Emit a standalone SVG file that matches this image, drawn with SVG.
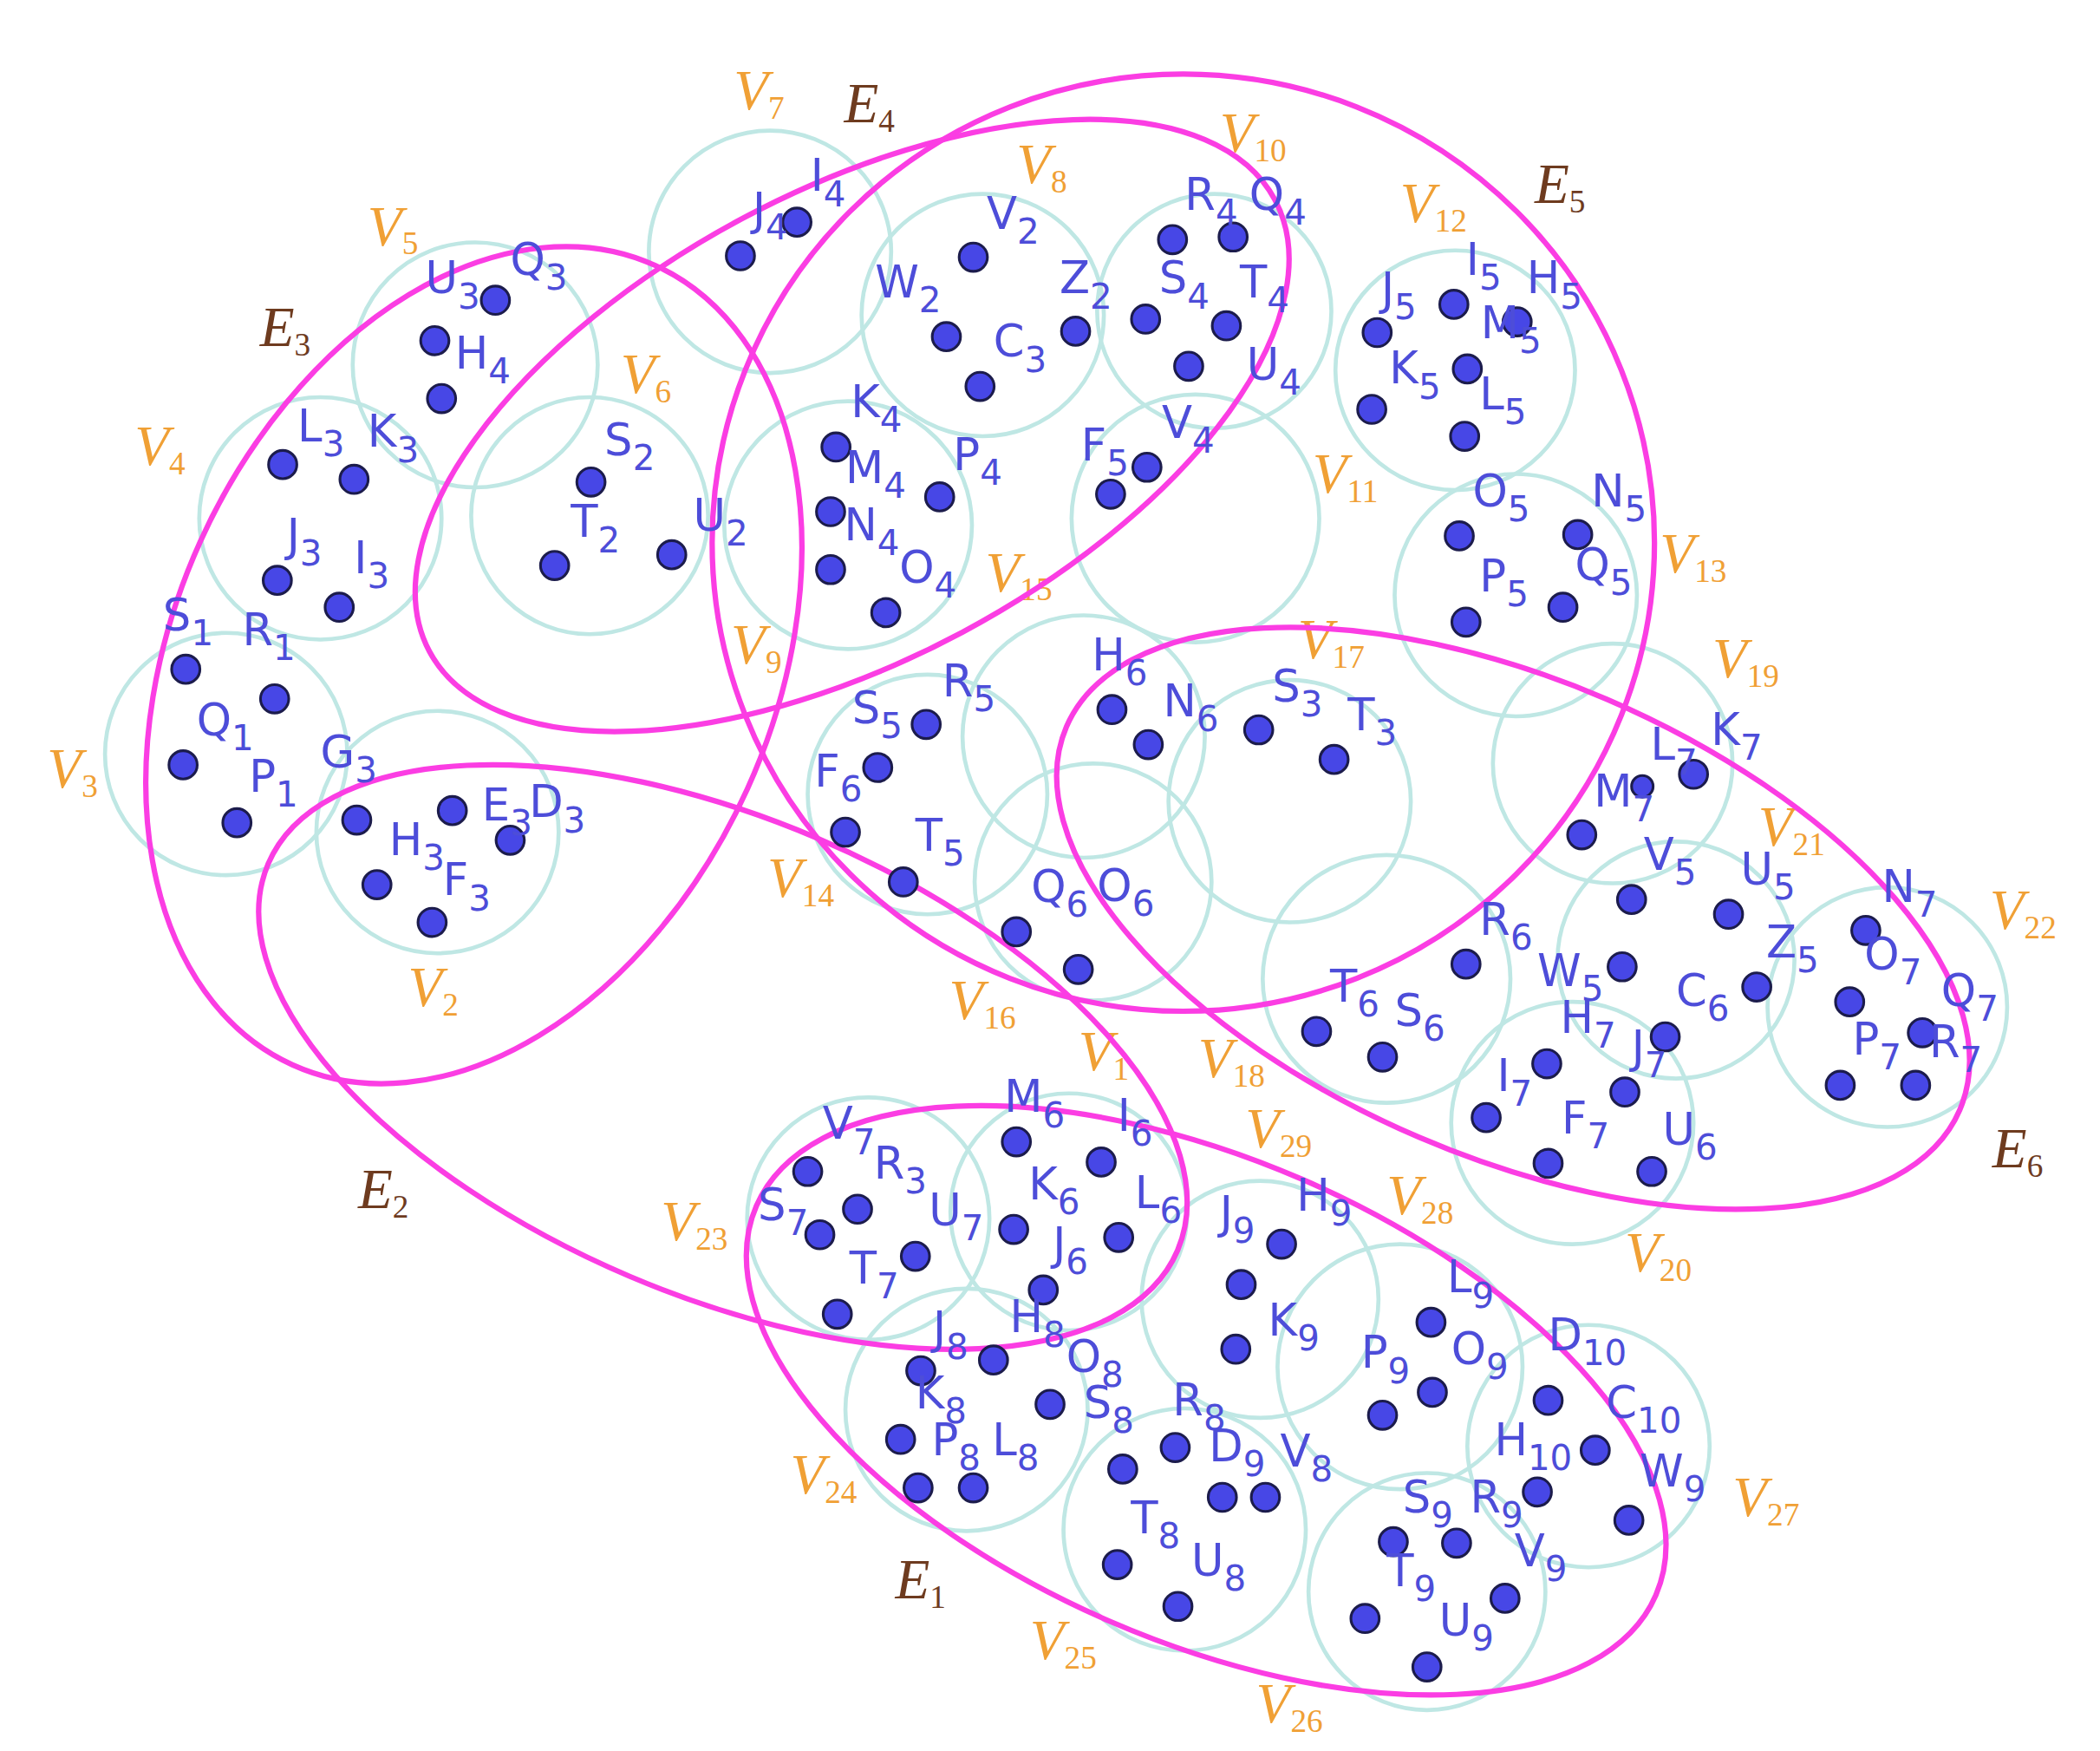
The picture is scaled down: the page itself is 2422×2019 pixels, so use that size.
<svg xmlns="http://www.w3.org/2000/svg" width="2422" height="2019" viewBox="0 0 2422 2019">
<style>
.c{fill:none;stroke:#bfe7e4;stroke-width:3}
.e{fill:none;stroke:#fb3de3;stroke-width:4}
.d{fill:#4747e6;stroke:#1c1c4c;stroke-width:2}
.t{font-family:"DejaVu Sans",sans-serif;font-size:33px;fill:#4d4dd9}
.s{font-size:26px}
.v{font-family:"Liberation Serif",serif;font-style:italic;font-size:42px;fill:#f0a035}
.vs{font-style:normal;font-size:24px}
.el{font-family:"Liberation Serif",serif;font-style:italic;font-size:42px;fill:#6e3b1f}
</style>
<rect width="2422" height="2019" fill="#ffffff"/>
<g transform="scale(1.5526)">
<g id="clusters">
<g id="V1"><circle class="c" cx="794" cy="900" r="88"/><text class="v" x="801" y="795">V<tspan class="vs" dy="7">1</tspan></text></g>
<g id="V2"><circle class="c" cx="325" cy="618" r="90"/><text class="v" x="303" y="747">V<tspan class="vs" dy="7">2</tspan></text></g>
<g id="V3"><circle class="c" cx="168" cy="560" r="90"/><text class="v" x="35" y="585">V<tspan class="vs" dy="7">3</tspan></text></g>
<g id="V4"><circle class="c" cx="238" cy="385" r="90"/><text class="v" x="100" y="345">V<tspan class="vs" dy="7">4</tspan></text></g>
<g id="V5"><circle class="c" cx="353" cy="271" r="91"/><text class="v" x="273" y="182">V<tspan class="vs" dy="7">5</tspan></text></g>
<g id="V6"><circle class="c" cx="438" cy="383" r="88"/><text class="v" x="461" y="292">V<tspan class="vs" dy="7">6</tspan></text></g>
<g id="V7"><circle class="c" cx="572" cy="187" r="90"/><text class="v" x="545" y="81">V<tspan class="vs" dy="7">7</tspan></text></g>
<g id="V8"><circle class="c" cx="730" cy="234" r="90"/><text class="v" x="755" y="136">V<tspan class="vs" dy="7">8</tspan></text></g>
<g id="V9"><circle class="c" cx="630" cy="390" r="92"/><text class="v" x="543" y="493">V<tspan class="vs" dy="7">9</tspan></text></g>
<g id="V10"><circle class="c" cx="902" cy="231" r="87"/><text class="v" x="906" y="113">V<tspan class="vs" dy="7">10</tspan></text></g>
<g id="V11"><circle class="c" cx="888" cy="385" r="92"/><text class="v" x="975" y="366">V<tspan class="vs" dy="7">11</tspan></text></g>
<g id="V12"><circle class="c" cx="1081" cy="275" r="89"/><text class="v" x="1040" y="165">V<tspan class="vs" dy="7">12</tspan></text></g>
<g id="V13"><circle class="c" cx="1126" cy="442" r="90"/><text class="v" x="1233" y="425">V<tspan class="vs" dy="7">13</tspan></text></g>
<g id="V14"><circle class="c" cx="689" cy="590" r="89"/><text class="v" x="570" y="666">V<tspan class="vs" dy="7">14</tspan></text></g>
<g id="V15"><circle class="c" cx="805" cy="547" r="90"/><text class="v" x="732" y="439">V<tspan class="vs" dy="7">15</tspan></text></g>
<g id="V16"><circle class="c" cx="812" cy="655" r="88"/><text class="v" x="705" y="757">V<tspan class="vs" dy="7">16</tspan></text></g>
<g id="V17"><circle class="c" cx="958" cy="595" r="90"/><text class="v" x="964" y="489">V<tspan class="vs" dy="7">17</tspan></text></g>
<g id="V18"><circle class="c" cx="1030" cy="727" r="92"/><text class="v" x="890" y="800">V<tspan class="vs" dy="7">18</tspan></text></g>
<g id="V19"><circle class="c" cx="1198" cy="567" r="89"/><text class="v" x="1272" y="503">V<tspan class="vs" dy="7">19</tspan></text></g>
<g id="V20"><circle class="c" cx="1168" cy="834" r="90"/><text class="v" x="1207" y="944">V<tspan class="vs" dy="7">20</tspan></text></g>
<g id="V21"><circle class="c" cx="1245" cy="713" r="88"/><text class="v" x="1306" y="628">V<tspan class="vs" dy="7">21</tspan></text></g>
<g id="V22"><circle class="c" cx="1402" cy="748" r="89"/><text class="v" x="1478" y="690">V<tspan class="vs" dy="7">22</tspan></text></g>
<g id="V23"><circle class="c" cx="645" cy="905" r="90"/><text class="v" x="491" y="921">V<tspan class="vs" dy="7">23</tspan></text></g>
<g id="V24"><circle class="c" cx="718" cy="1047" r="90"/><text class="v" x="587" y="1109">V<tspan class="vs" dy="7">24</tspan></text></g>
<g id="V25"><circle class="c" cx="880" cy="1136" r="90"/><text class="v" x="765" y="1232">V<tspan class="vs" dy="7">25</tspan></text></g>
<g id="V26"><circle class="c" cx="1060" cy="1182" r="88"/><text class="v" x="933" y="1279">V<tspan class="vs" dy="7">26</tspan></text></g>
<g id="V27"><circle class="c" cx="1180" cy="1074" r="90"/><text class="v" x="1287" y="1126">V<tspan class="vs" dy="7">27</tspan></text></g>
<g id="V28"><circle class="c" cx="1040" cy="1015" r="91"/><text class="v" x="1030" y="902">V<tspan class="vs" dy="7">28</tspan></text></g>
<g id="V29"><circle class="c" cx="936" cy="965" r="88"/><text class="v" x="925" y="852">V<tspan class="vs" dy="7">29</tspan></text></g>
</g>
<g id="hyperedges">
<ellipse class="e" cx="896" cy="1040" rx="364" ry="179" transform="rotate(23.4 896 1040)"/>
<ellipse class="e" cx="537" cy="785" rx="367" ry="177" transform="rotate(23 537 785)"/>
<ellipse class="e" cx="352" cy="494" rx="326" ry="223" transform="rotate(-65.6 352 494)"/>
<ellipse class="e" cx="633" cy="316" rx="356" ry="174" transform="rotate(-28.1 633 316)"/>
<ellipse class="e" cx="879" cy="403" rx="350" ry="348"/>
<ellipse class="e" cx="1124" cy="682" rx="361" ry="177" transform="rotate(23.2 1124 682)"/>
<text class="el" x="665" y="1187">E<tspan class="vs" dy="7">1</tspan></text>
<text class="el" x="266" y="897">E<tspan class="vs" dy="7">2</tspan></text>
<text class="el" x="193" y="257">E<tspan class="vs" dy="7">3</tspan></text>
<text class="el" x="627" y="91">E<tspan class="vs" dy="7">4</tspan></text>
<text class="el" x="1140" y="151">E<tspan class="vs" dy="7">5</tspan></text>
<text class="el" x="1480" y="867">E<tspan class="vs" dy="7">6</tspan></text>
</g>
<g id="points">
<g id="P-V5">
<circle class="d" cx="368" cy="223" r="10.5"/><circle class="d" cx="323" cy="253" r="10.5"/><circle class="d" cx="328" cy="296" r="10.5"/>
<text class="t" x="316" y="218">U<tspan class="s" dy="11">3</tspan></text>
<text class="t" x="379" y="204">Q<tspan class="s" dy="11">3</tspan></text>
<text class="t" x="338" y="274">H<tspan class="s" dy="11">4</tspan></text>
</g>
<g id="P-V4">
<circle class="d" cx="210" cy="345" r="10.5"/><circle class="d" cx="263" cy="356" r="10.5"/><circle class="d" cx="206" cy="431" r="10.5"/><circle class="d" cx="252" cy="451" r="10.5"/>
<text class="t" x="221" y="328">L<tspan class="s" dy="11">3</tspan></text>
<text class="t" x="273" y="332">K<tspan class="s" dy="11">3</tspan></text>
<text class="t" x="213" y="409">J<tspan class="s" dy="11">3</tspan></text>
<text class="t" x="263" y="426">I<tspan class="s" dy="11">3</tspan></text>
</g>
<g id="P-V3">
<circle class="d" cx="138" cy="497" r="10.5"/><circle class="d" cx="204" cy="519" r="10.5"/><circle class="d" cx="136" cy="568" r="10.5"/><circle class="d" cx="176" cy="611" r="10.5"/>
<text class="t" x="121" y="468">S<tspan class="s" dy="11">1</tspan></text>
<text class="t" x="180" y="479">R<tspan class="s" dy="11">1</tspan></text>
<text class="t" x="146" y="546">Q<tspan class="s" dy="11">1</tspan></text>
<text class="t" x="185" y="588">P<tspan class="s" dy="11">1</tspan></text>
</g>
<g id="P-V2">
<circle class="d" cx="265" cy="609" r="10.5"/><circle class="d" cx="336" cy="602" r="10.5"/><circle class="d" cx="379" cy="624" r="10.5"/><circle class="d" cx="280" cy="657" r="10.5"/><circle class="d" cx="321" cy="685" r="10.5"/>
<text class="t" x="238" y="570">G<tspan class="s" dy="11">3</tspan></text>
<text class="t" x="358" y="609">E<tspan class="s" dy="11">3</tspan></text>
<text class="t" x="393" y="607">D<tspan class="s" dy="11">3</tspan></text>
<text class="t" x="289" y="635">H<tspan class="s" dy="11">3</tspan></text>
<text class="t" x="329" y="665">F<tspan class="s" dy="11">3</tspan></text>
</g>
<g id="P-V6">
<circle class="d" cx="439" cy="358" r="10.5"/><circle class="d" cx="412" cy="420" r="10.5"/><circle class="d" cx="499" cy="412" r="10.5"/>
<text class="t" x="449" y="338">S<tspan class="s" dy="11">2</tspan></text>
<text class="t" x="424" y="399">T<tspan class="s" dy="11">2</tspan></text>
<text class="t" x="515" y="394">U<tspan class="s" dy="11">2</tspan></text>
</g>
<g id="P-V7">
<circle class="d" cx="592" cy="165" r="10.5"/><circle class="d" cx="550" cy="190" r="10.5"/>
<text class="t" x="602" y="142">I<tspan class="s" dy="11">4</tspan></text>
<text class="t" x="559" y="167">J<tspan class="s" dy="11">4</tspan></text>
</g>
<g id="P-V8">
<circle class="d" cx="723" cy="191" r="10.5"/><circle class="d" cx="703" cy="250" r="10.5"/><circle class="d" cx="799" cy="246" r="10.5"/><circle class="d" cx="728" cy="287" r="10.5"/>
<text class="t" x="733" y="170">V<tspan class="s" dy="11">2</tspan></text>
<text class="t" x="650" y="221">W<tspan class="s" dy="11">2</tspan></text>
<text class="t" x="738" y="265">C<tspan class="s" dy="11">3</tspan></text>
<text class="t" x="787" y="218">Z<tspan class="s" dy="11">2</tspan></text>
</g>
<g id="P-V10">
<circle class="d" cx="871" cy="178" r="10.5"/><circle class="d" cx="916" cy="176" r="10.5"/><circle class="d" cx="851" cy="237" r="10.5"/><circle class="d" cx="911" cy="242" r="10.5"/><circle class="d" cx="883" cy="272" r="10.5"/>
<text class="t" x="880" y="156">R<tspan class="s" dy="11">4</tspan></text>
<text class="t" x="928" y="156">Q<tspan class="s" dy="11">4</tspan></text>
<text class="t" x="861" y="218">S<tspan class="s" dy="11">4</tspan></text>
<text class="t" x="921" y="221">T<tspan class="s" dy="11">4</tspan></text>
<text class="t" x="926" y="282">U<tspan class="s" dy="11">4</tspan></text>
</g>
<g id="P-V12">
<circle class="d" cx="1023" cy="247" r="10.5"/><circle class="d" cx="1080" cy="226" r="10.5"/><circle class="d" cx="1127" cy="239" r="10.5"/><circle class="d" cx="1090" cy="274" r="10.5"/><circle class="d" cx="1019" cy="304" r="10.5"/><circle class="d" cx="1088" cy="324" r="10.5"/>
<text class="t" x="1089" y="204">I<tspan class="s" dy="11">5</tspan></text>
<text class="t" x="1134" y="218">H<tspan class="s" dy="11">5</tspan></text>
<text class="t" x="1026" y="226">J<tspan class="s" dy="11">5</tspan></text>
<text class="t" x="1100" y="251">M<tspan class="s" dy="11">5</tspan></text>
<text class="t" x="1032" y="285">K<tspan class="s" dy="11">5</tspan></text>
<text class="t" x="1099" y="304">L<tspan class="s" dy="11">5</tspan></text>
</g>
<g id="P-V13">
<circle class="d" cx="1084" cy="398" r="10.5"/><circle class="d" cx="1172" cy="397" r="10.5"/><circle class="d" cx="1089" cy="462" r="10.5"/><circle class="d" cx="1161" cy="451" r="10.5"/>
<text class="t" x="1094" y="376">O<tspan class="s" dy="11">5</tspan></text>
<text class="t" x="1182" y="376">N<tspan class="s" dy="11">5</tspan></text>
<text class="t" x="1170" y="431">Q<tspan class="s" dy="11">5</tspan></text>
<text class="t" x="1099" y="439">P<tspan class="s" dy="11">5</tspan></text>
</g>
<g id="P-V11">
<circle class="d" cx="852" cy="347" r="10.5"/><circle class="d" cx="825" cy="367" r="10.5"/>
<text class="t" x="803" y="342">F<tspan class="s" dy="11">5</tspan></text>
<text class="t" x="863" y="325">V<tspan class="s" dy="11">4</tspan></text>
</g>
<g id="P-V9">
<circle class="d" cx="621" cy="332" r="10.5"/><circle class="d" cx="617" cy="380" r="10.5"/><circle class="d" cx="698" cy="369" r="10.5"/><circle class="d" cx="617" cy="423" r="10.5"/><circle class="d" cx="658" cy="455" r="10.5"/>
<text class="t" x="632" y="310">K<tspan class="s" dy="11">4</tspan></text>
<text class="t" x="628" y="359">M<tspan class="s" dy="11">4</tspan></text>
<text class="t" x="627" y="401">N<tspan class="s" dy="11">4</tspan></text>
<text class="t" x="708" y="349">P<tspan class="s" dy="11">4</tspan></text>
<text class="t" x="668" y="433">O<tspan class="s" dy="11">4</tspan></text>
</g>
<g id="P-V14">
<circle class="d" cx="688" cy="538" r="10.5"/><circle class="d" cx="652" cy="570" r="10.5"/><circle class="d" cx="628" cy="618" r="10.5"/><circle class="d" cx="671" cy="655" r="10.5"/>
<text class="t" x="633" y="537">S<tspan class="s" dy="11">5</tspan></text>
<text class="t" x="700" y="517">R<tspan class="s" dy="11">5</tspan></text>
<text class="t" x="605" y="584">F<tspan class="s" dy="11">6</tspan></text>
<text class="t" x="680" y="632">T<tspan class="s" dy="11">5</tspan></text>
</g>
<g id="P-V16">
<circle class="d" cx="755" cy="692" r="10.5"/><circle class="d" cx="801" cy="720" r="10.5"/>
<text class="t" x="766" y="670">Q<tspan class="s" dy="11">6</tspan></text>
<text class="t" x="815" y="669">O<tspan class="s" dy="11">6</tspan></text>
</g>
<g id="P-V15">
<circle class="d" cx="826" cy="527" r="10.5"/><circle class="d" cx="853" cy="553" r="10.5"/>
<text class="t" x="811" y="498">H<tspan class="s" dy="11">6</tspan></text>
<text class="t" x="864" y="532">N<tspan class="s" dy="11">6</tspan></text>
</g>
<g id="P-V17">
<circle class="d" cx="935" cy="542" r="10.5"/><circle class="d" cx="991" cy="564" r="10.5"/>
<text class="t" x="945" y="521">S<tspan class="s" dy="11">3</tspan></text>
<text class="t" x="1001" y="542">T<tspan class="s" dy="11">3</tspan></text>
</g>
<g id="P-V19">
<circle class="d" cx="1258" cy="575" r="10.5"/><circle class="d" cx="1220" cy="584" r="8"/><circle class="d" cx="1175" cy="620" r="10.5"/>
<text class="t" x="1271" y="553">K<tspan class="s" dy="11">7</tspan></text>
<text class="t" x="1226" y="564">L<tspan class="s" dy="11">7</tspan></text>
<text class="t" x="1184" y="599">M<tspan class="s" dy="11">7</tspan></text>
</g>
<g id="P-V21">
<circle class="d" cx="1212" cy="668" r="10.5"/><circle class="d" cx="1284" cy="679" r="10.5"/><circle class="d" cx="1305" cy="733" r="10.5"/><circle class="d" cx="1205" cy="718" r="10.5"/><circle class="d" cx="1237" cy="770" r="10.5"/>
<text class="t" x="1221" y="646">V<tspan class="s" dy="11">5</tspan></text>
<text class="t" x="1293" y="657">U<tspan class="s" dy="11">5</tspan></text>
<text class="t" x="1312" y="711">Z<tspan class="s" dy="11">5</tspan></text>
<text class="t" x="1142" y="732">W<tspan class="s" dy="11">5</tspan></text>
<text class="t" x="1245" y="747">C<tspan class="s" dy="11">6</tspan></text>
</g>
<g id="P-V18">
<circle class="d" cx="1089" cy="716" r="10.5"/><circle class="d" cx="978" cy="766" r="10.5"/><circle class="d" cx="1027" cy="785" r="10.5"/>
<text class="t" x="1099" y="694">R<tspan class="s" dy="11">6</tspan></text>
<text class="t" x="1036" y="762">S<tspan class="s" dy="11">6</tspan></text>
<text class="t" x="988" y="744">T<tspan class="s" dy="11">6</tspan></text>
</g>
<g id="P-V20">
<circle class="d" cx="1149" cy="790" r="10.5"/><circle class="d" cx="1207" cy="811" r="10.5"/><circle class="d" cx="1104" cy="830" r="10.5"/><circle class="d" cx="1150" cy="864" r="10.5"/><circle class="d" cx="1227" cy="870" r="10.5"/>
<text class="t" x="1159" y="767">H<tspan class="s" dy="11">7</tspan></text>
<text class="t" x="1212" y="789">J<tspan class="s" dy="11">7</tspan></text>
<text class="t" x="1112" y="810">I<tspan class="s" dy="11">7</tspan></text>
<text class="t" x="1160" y="842">F<tspan class="s" dy="11">7</tspan></text>
<text class="t" x="1235" y="850">U<tspan class="s" dy="11">6</tspan></text>
</g>
<g id="P-V22">
<circle class="d" cx="1386" cy="691" r="10.5"/><circle class="d" cx="1374" cy="744" r="10.5"/><circle class="d" cx="1428" cy="767" r="10.5"/><circle class="d" cx="1367" cy="806" r="10.5"/><circle class="d" cx="1423" cy="806" r="10.5"/>
<text class="t" x="1398" y="670">N<tspan class="s" dy="11">7</tspan></text>
<text class="t" x="1385" y="720">O<tspan class="s" dy="11">7</tspan></text>
<text class="t" x="1442" y="747">Q<tspan class="s" dy="11">7</tspan></text>
<text class="t" x="1376" y="783">P<tspan class="s" dy="11">7</tspan></text>
<text class="t" x="1433" y="785">R<tspan class="s" dy="11">7</tspan></text>
</g>
<g id="P-V1">
<circle class="d" cx="755" cy="848" r="10.5"/><circle class="d" cx="818" cy="863" r="10.5"/><circle class="d" cx="753" cy="913" r="10.5"/><circle class="d" cx="831" cy="919" r="10.5"/><circle class="d" cx="775" cy="958" r="10.5"/>
<text class="t" x="746" y="826">M<tspan class="s" dy="11">6</tspan></text>
<text class="t" x="830" y="840">I<tspan class="s" dy="11">6</tspan></text>
<text class="t" x="764" y="891">K<tspan class="s" dy="11">6</tspan></text>
<text class="t" x="843" y="897">L<tspan class="s" dy="11">6</tspan></text>
<text class="t" x="782" y="935">J<tspan class="s" dy="11">6</tspan></text>
</g>
<g id="P-V23">
<circle class="d" cx="600" cy="870" r="10.5"/><circle class="d" cx="637" cy="898" r="10.5"/><circle class="d" cx="609" cy="917" r="10.5"/><circle class="d" cx="680" cy="933" r="10.5"/><circle class="d" cx="622" cy="976" r="10.5"/>
<text class="t" x="611" y="846">V<tspan class="s" dy="11">7</tspan></text>
<text class="t" x="649" y="875">R<tspan class="s" dy="11">3</tspan></text>
<text class="t" x="563" y="906">S<tspan class="s" dy="11">7</tspan></text>
<text class="t" x="690" y="910">U<tspan class="s" dy="11">7</tspan></text>
<text class="t" x="631" y="953">T<tspan class="s" dy="11">7</tspan></text>
</g>
<g id="P-V24">
<circle class="d" cx="738" cy="1010" r="10.5"/><circle class="d" cx="684" cy="1018" r="10.5"/><circle class="d" cx="780" cy="1043" r="10.5"/><circle class="d" cx="669" cy="1069" r="10.5"/><circle class="d" cx="682" cy="1105" r="10.5"/><circle class="d" cx="723" cy="1105" r="10.5"/>
<text class="t" x="750" y="989">H<tspan class="s" dy="11">8</tspan></text>
<text class="t" x="693" y="998">J<tspan class="s" dy="11">8</tspan></text>
<text class="t" x="792" y="1019">O<tspan class="s" dy="11">8</tspan></text>
<text class="t" x="680" y="1046">K<tspan class="s" dy="11">8</tspan></text>
<text class="t" x="692" y="1081">P<tspan class="s" dy="11">8</tspan></text>
<text class="t" x="737" y="1081">L<tspan class="s" dy="11">8</tspan></text>
</g>
<g id="P-V25">
<circle class="d" cx="873" cy="1075" r="10.5"/><circle class="d" cx="834" cy="1091" r="10.5"/><circle class="d" cx="908" cy="1112" r="10.5"/><circle class="d" cx="940" cy="1112" r="10.5"/><circle class="d" cx="830" cy="1162" r="10.5"/><circle class="d" cx="875" cy="1193" r="10.5"/>
<text class="t" x="805" y="1053">S<tspan class="s" dy="11">8</tspan></text>
<text class="t" x="871" y="1051">R<tspan class="s" dy="11">8</tspan></text>
<text class="t" x="898" y="1085">D<tspan class="s" dy="11">9</tspan></text>
<text class="t" x="951" y="1089">V<tspan class="s" dy="11">8</tspan></text>
<text class="t" x="840" y="1139">T<tspan class="s" dy="11">8</tspan></text>
<text class="t" x="885" y="1170">U<tspan class="s" dy="11">8</tspan></text>
</g>
<g id="P-V29">
<circle class="d" cx="952" cy="924" r="10.5"/><circle class="d" cx="922" cy="954" r="10.5"/><circle class="d" cx="918" cy="1002" r="10.5"/>
<text class="t" x="963" y="899">H<tspan class="s" dy="11">9</tspan></text>
<text class="t" x="906" y="912">J<tspan class="s" dy="11">9</tspan></text>
<text class="t" x="942" y="992">K<tspan class="s" dy="11">9</tspan></text>
</g>
<g id="P-V28">
<circle class="d" cx="1063" cy="982" r="10.5"/><circle class="d" cx="1064" cy="1034" r="10.5"/><circle class="d" cx="1027" cy="1051" r="10.5"/>
<text class="t" x="1075" y="960">L<tspan class="s" dy="11">9</tspan></text>
<text class="t" x="1011" y="1016">P<tspan class="s" dy="11">9</tspan></text>
<text class="t" x="1078" y="1013">O<tspan class="s" dy="11">9</tspan></text>
</g>
<g id="P-V27">
<circle class="d" cx="1150" cy="1040" r="10.5"/><circle class="d" cx="1185" cy="1077" r="10.5"/><circle class="d" cx="1142" cy="1108" r="10.5"/><circle class="d" cx="1210" cy="1129" r="10.5"/>
<text class="t" x="1150" y="1003">D<tspan class="s" dy="11">10</tspan></text>
<text class="t" x="1193" y="1053">C<tspan class="s" dy="11">10</tspan></text>
<text class="t" x="1110" y="1081">H<tspan class="s" dy="11">10</tspan></text>
<text class="t" x="1218" y="1104">W<tspan class="s" dy="11">9</tspan></text>
</g>
<g id="P-V26">
<circle class="d" cx="1082" cy="1146" r="10.5"/><circle class="d" cx="1035" cy="1145" r="10.5"/><circle class="d" cx="1118" cy="1187" r="10.5"/><circle class="d" cx="1060" cy="1238" r="10.5"/><circle class="d" cx="1014" cy="1202" r="10.5"/>
<text class="t" x="1042" y="1123">S<tspan class="s" dy="11">9</tspan></text>
<text class="t" x="1092" y="1123">R<tspan class="s" dy="11">9</tspan></text>
<text class="t" x="1125" y="1163">V<tspan class="s" dy="11">9</tspan></text>
<text class="t" x="1030" y="1178">T<tspan class="s" dy="11">9</tspan></text>
<text class="t" x="1069" y="1215">U<tspan class="s" dy="11">9</tspan></text>
</g>
</g>
</g>
</svg>
